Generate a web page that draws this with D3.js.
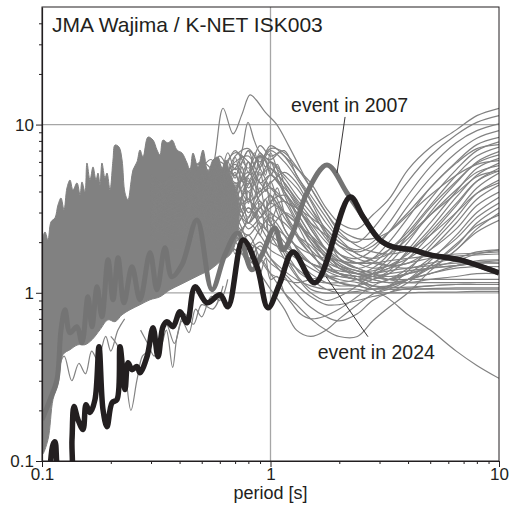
<!DOCTYPE html>
<html>
<head>
<meta charset="utf-8">
<script src="https://cdn.jsdelivr.net/npm/d3@7"></script>
<style>
  body { margin: 0; background: #fff; }
  text { font-family: "Liberation Sans", Arial, Helvetica, sans-serif; fill: #231f20; }
</style>
</head>
<body>
<div id="chart"></div>
<script>
// ---- data (period [s], response) ----
const titleText = "JMA Wajima / K-NET ISK003";
const xLabel = "period [s]";
const xMajor = [0.1, 1, 10];
const yMajor = [0.1, 1, 10];
const xMinor = [0.2, 0.3, 0.4, 0.5, 0.6, 0.7, 0.8, 0.9, 2, 3, 4, 5, 6, 7, 8, 9];
const yMinor = [0.2, 0.3, 0.4, 0.5, 0.6, 0.7, 0.8, 0.9, 2, 3, 4, 5, 6, 7, 8, 9, 20, 30, 40];

// event in 2024 (thick black)
const p2024 = [0.1084, 0.1117, 0.114, 0.1163, 0.1199, 0.1326, 0.1353, 0.138, 0.1437, 0.1512, 0.1558, 0.1622, 0.1706, 0.1776, 0.1849, 0.1925, 0.2025, 0.2129, 0.2195, 0.2308, 0.2379, 0.2476, 0.2604, 0.2684, 0.2881, 0.3061, 0.3219, 0.3385, 0.3524, 0.3744, 0.4018, 0.4311, 0.4673, 0.5273, 0.6012, 0.6516, 0.758, 0.873, 0.975, 1.10, 1.254, 1.566, 2.23, 2.54, 3.01, 3.43, 4.2, 4.99, 6.75, 10];
const v2024 = [0.089, 0.125, 0.13, 0.095, 0.078, 0.078, 0.134, 0.211, 0.176, 0.154, 0.216, 0.194, 0.232, 0.478, 0.202, 0.16, 0.222, 0.232, 0.478, 0.266, 0.384, 0.349, 0.364, 0.335, 0.417, 0.62, 0.417, 0.629, 0.673, 0.629, 0.771, 0.664, 1.085, 0.872, 0.973, 0.826, 2.063, 1.426, 0.815, 1.146, 1.75, 1.146, 3.71, 2.83, 2.06, 1.875, 1.80, 1.68, 1.57, 1.314];

// event in 2007 (thick grey)
const p2007 = [0.1, 0.1084, 0.1163, 0.1211, 0.1261, 0.1326, 0.1422, 0.1496, 0.1588, 0.1655, 0.1741, 0.183, 0.1945, 0.2046, 0.2152, 0.2284, 0.2476, 0.2684, 0.297, 0.3185, 0.3453, 0.37, 0.4097, 0.4766, 0.5547, 0.6316, 0.7192, 0.8287, 0.916, 1.044, 1.134, 1.252, 1.442, 1.767, 2.162, 2.54, 3.01, 3.43, 4.2, 4.99, 6.75, 10];
const v2007 = [0.176, 0.232, 0.305, 0.603, 0.793, 0.579, 0.629, 0.505, 0.947, 0.629, 1.085, 0.721, 1.57, 0.909, 1.613, 0.872, 1.426, 0.909, 1.727, 1.042, 1.85, 1.245, 1.466, 2.71, 1.042, 1.68, 2.27, 1.369, 1.68, 2.43, 1.80, 2.27, 3.92, 5.75, 3.92, 2.83, 2.06, 1.875, 1.80, 1.68, 1.57, 1.314];

// dense band of other records at short periods: upper and lower edge
const bandTopP = [0.1, 0.1031, 0.1062, 0.1095, 0.114, 0.1175, 0.1211, 0.1248, 0.1286, 0.1326, 0.1366, 0.1423, 0.1467, 0.1496, 0.1542, 0.1573, 0.1622, 0.1672, 0.1723, 0.1758, 0.1794, 0.183, 0.1887, 0.1925, 0.1984, 0.2045, 0.2087, 0.2173, 0.224, 0.2308, 0.2379, 0.2452, 0.2501, 0.2604, 0.2684, 0.2767, 0.291, 0.3061, 0.3186, 0.3284, 0.3385, 0.3559, 0.3707, 0.3898, 0.41, 0.4311, 0.4443, 0.458, 0.4816, 0.5064, 0.5326, 0.5601, 0.589, 0.6135, 0.6387, 0.665, 0.70, 0.73];
const bandTopV = [1.93, 2.3, 2.06, 2.64, 2.79, 3.33, 3.66, 3.11, 4.2, 4.68, 4.09, 4.5, 3.82, 4.56, 3.98, 5.91, 4.68, 5.6, 4.68, 5.15, 4.38, 5.91, 4.81, 5.15, 4.09, 6.16, 7.56, 7.35, 6.16, 3.92, 3.57, 4.56, 5.37, 5.99, 7.06, 6.41, 8.43, 8.09, 7.06, 6.59, 8.09, 7.77, 8.09, 7.06, 6.77, 5.91, 5.37, 6.77, 5.6, 7.06, 5.15, 6.16, 6.41, 5.37, 6.16, 5.0, 4.2, 3.0];
const bandLowP = [0.1, 0.1062, 0.1117, 0.1175, 0.1236, 0.1326, 0.1437, 0.1542, 0.1655, 0.1794, 0.1945, 0.2087, 0.224, 0.2427, 0.2684, 0.297, 0.3284, 0.363, 0.4018, 0.4443, 0.4912, 0.5432, 0.6012, 0.665, 0.70];
const bandLowV = [0.109, 0.134, 0.232, 0.284, 0.429, 0.459, 0.491, 0.491, 0.526, 0.603, 0.691, 0.673, 0.74, 0.793, 0.849, 0.909, 0.947, 1.042, 1.116, 1.195, 1.279, 1.369, 1.527, 1.681, 1.95];

// other records, sampled on a common period grid
const gridP = [0.3, 0.4, 0.5, 0.6, 0.7, 0.8, 0.9, 1.0, 1.15, 1.3, 1.5, 1.75, 2.0, 2.4, 2.8, 3.3, 4, 5, 6.5, 8, 10];
const others = [
  [4, 5, 4.5, 6, 5, 7, 6, 7.5, 6.5, 5.5, 4.5, 3.2, 2.6, 2.4, 2.9, 3.6, 5.4, 7.3, 9.3, 11.3, 12.5],
  [3.5, 4.5, 6, 5, 7, 5.5, 7.5, 6.5, 7, 5, 3.8, 2.8, 2.2, 2.0, 2.4, 3.2, 4.6, 6.5, 8.7, 10.3, 11.3],
  [5, 4, 5.5, 4.5, 6, 6.5, 5, 6, 5, 4.2, 3.2, 2.4, 2.0, 1.8, 2.0, 2.6, 3.8, 5.6, 7.8, 9.2, 10.1],
  [3, 5.5, 4, 6.5, 4.5, 5, 6.5, 5.5, 4.5, 3.5, 2.6, 2.0, 1.7, 1.6, 1.8, 2.3, 3.3, 4.8, 6.8, 8.3, 9.2],
  [4.5, 3.5, 5, 4, 5.5, 4, 5.5, 7, 6, 4.8, 3.5, 2.3, 1.7, 1.5, 1.6, 2.0, 2.8, 4.2, 6.0, 7.6, 8.4],
  [3, 4, 3.5, 5, 4, 6, 4.5, 5, 4, 3, 2.2, 1.6, 1.4, 1.3, 1.4, 1.7, 2.4, 3.6, 5.4, 7.0, 7.9],
  [5, 3, 4.5, 3.5, 4.5, 3.5, 4, 4.5, 5.2, 4.5, 3.2, 2.2, 1.6, 1.4, 1.5, 1.8, 2.3, 3.3, 5.0, 6.5, 7.35],
  [2.5, 4.5, 3, 4, 3, 4.5, 3.5, 3, 2.6, 2.2, 1.9, 1.5, 1.3, 1.2, 1.25, 1.5, 2.0, 3.0, 4.5, 6.0, 6.9],
  [3.5, 2.8, 4, 3, 5, 3, 3.8, 4.2, 3.5, 2.6, 1.8, 1.3, 1.15, 1.1, 1.2, 1.35, 1.8, 2.6, 4.0, 5.5, 6.3],
  [4, 3.2, 3.5, 5.5, 3.5, 4, 2.8, 3.5, 3.8, 3.2, 2.5, 1.8, 1.4, 1.3, 1.3, 1.4, 1.75, 2.4, 3.7, 5.0, 5.9],
  [2.8, 3.8, 3, 3.5, 2.8, 3.5, 3, 2.5, 3.0, 2.7, 2.0, 1.5, 1.3, 1.2, 1.2, 1.3, 1.6, 2.2, 3.3, 4.6, 5.5],
  [3.2, 2.5, 4.5, 3.2, 4, 2.8, 4.8, 5.5, 4.5, 3.6, 2.8, 2.1, 1.7, 1.5, 1.4, 1.45, 1.6, 2.0, 3.0, 4.2, 5.15],
  [2.6, 3.5, 2.8, 3, 2.5, 3.2, 2.5, 2.0, 1.8, 1.6, 1.4, 1.25, 1.15, 1.1, 1.05, 1.1, 1.35, 1.9, 2.8, 3.9, 4.68],
  [4.5, 3.8, 3.2, 4.5, 3.2, 2.6, 3.2, 3.8, 2.8, 2.2, 1.7, 1.4, 1.3, 1.25, 1.15, 1.2, 1.4, 1.8, 2.6, 3.6, 4.37],
  [3, 4.2, 3.6, 2.6, 3.6, 5, 6.5, 6, 4.8, 3.8, 3.0, 2.3, 1.9, 1.6, 1.5, 1.45, 1.5, 1.8, 2.4, 3.3, 3.97],
  [2.3, 2.8, 2.4, 3.2, 2.2, 2.6, 2.2, 1.8, 1.6, 1.4, 1.2, 1.05, 1.0, 1.0, 1.0, 1.05, 1.2, 1.55, 2.2, 3.0, 3.7],
  [3.8, 3, 4, 2.8, 3.2, 2.4, 2.8, 3.2, 3.5, 3.0, 2.2, 1.7, 1.45, 1.35, 1.25, 1.2, 1.3, 1.6, 2.1, 2.8, 3.42],
  [2.5, 2.2, 3, 2.5, 2.8, 2, 1.8, 1.5, 1.3, 1.1, 0.95, 0.85, 0.85, 0.9, 0.95, 1.0, 1.15, 1.45, 1.9, 2.6, 3.2],
  [3.2, 2.6, 2.2, 3.8, 2.6, 2.2, 2.6, 2.2, 1.9, 1.7, 1.5, 1.35, 1.25, 1.2, 1.1, 1.1, 1.2, 1.4, 1.8, 2.4, 2.98],
  [4.2, 5, 5.8, 4.2, 6.5, 7.2, 5.5, 4.2, 3.5, 3.2, 2.8, 2.4, 2.0, 1.7, 1.55, 1.45, 1.4, 1.5, 1.6, 1.75, 1.8],
  [2.4, 3.2, 2.6, 2.2, 2.0, 2.8, 3.5, 2.6, 2.0, 1.7, 1.5, 1.4, 1.35, 1.3, 1.2, 1.15, 1.2, 1.3, 1.45, 1.55, 1.57],
  [2.8, 2.3, 3.4, 2.4, 2.5, 1.9, 2.4, 2.8, 2.2, 1.6, 1.3, 1.15, 1.1, 1.1, 1.05, 1.1, 1.2, 1.3, 1.4, 1.43, 1.43],
  [3.6, 4.6, 3.8, 5.2, 6.8, 6, 4.5, 3.8, 3.0, 2.6, 2.2, 1.8, 1.55, 1.4, 1.3, 1.2, 1.15, 1.15, 1.15, 1.15, 1.15],
  [2.2, 2.6, 2.0, 2.6, 1.8, 2.2, 1.6, 1.3, 1.2, 1.15, 1.2, 1.25, 1.25, 1.2, 1.1, 1.05, 1.05, 1.06, 1.07, 1.07, 1.07],
  [2.6, 2.0, 2.8, 2.0, 2.2, 1.6, 1.9, 1.6, 1.35, 1.2, 1.1, 1.05, 1.05, 1.05, 1.0, 1.0, 1.0, 1.01, 1.01, 1.02, 1.02],
  [3, 3.5, 2.5, 3, 2.5, 3.2, 2.8, 3.4, 3.0, 2.6, 2.1, 1.7, 1.45, 1.2, 1.05, 0.92, 0.74, 0.6, 0.45, 0.37, 0.31],
  [2.2, 1.8, 2.4, 1.8, 2.0, 1.5, 1.6, 1.3, 1.0, 0.85, 0.7, 0.6, 0.55, 0.55, 0.68, 0.82, 1.0, 1.35, 1.8, 2.3, 2.7],
  [2.5, 2, 2.8, 2.2, 1.8, 1.6, 1.3, 1.05, 0.8, 0.6, 0.55, 0.6, 0.7, 0.85, 0.98, 1.08, 1.2, 1.45, 1.95, 2.5, 2.9],
  [3, 2.4, 2, 2.6, 2.2, 1.8, 2.0, 1.6, 1.25, 1.0, 0.82, 0.72, 0.68, 0.75, 0.9, 1.0, 1.06, 1.1, 1.12, 1.12, 1.12],
  [3.4, 4, 3.2, 4.2, 3.4, 4.4, 5.8, 7.2, 6.8, 5.6, 4.2, 3.0, 2.3, 1.9, 1.75, 1.7, 1.8, 2.2, 3.0, 3.9, 4.5],
  [2.6, 3, 3.6, 2.8, 4.2, 5.2, 4.0, 5.0, 4.2, 3.4, 2.4, 1.8, 1.5, 1.35, 1.35, 1.45, 1.7, 2.3, 3.4, 4.6, 5.3],
  [3.6, 2.6, 3, 2.4, 3.0, 3.6, 2.6, 2.2, 1.6, 1.25, 1.0, 0.9, 0.95, 1.1, 1.3, 1.6, 2.2, 3.2, 4.6, 5.9, 6.6],
  [4, 4.8, 3.6, 4.6, 5.8, 4.6, 6.8, 5.2, 4.0, 3.2, 2.6, 2.2, 1.9, 1.75, 1.9, 2.3, 3.0, 4.2, 5.9, 7.2, 7.6],
  [2.8, 3.4, 4.2, 3.2, 3.6, 2.6, 3.2, 2.6, 2.2, 1.9, 1.7, 1.6, 1.55, 1.5, 1.6, 1.8, 2.2, 2.9, 3.9, 4.9, 5.3]
];

// records with short wiggles around 0.5-1.3 s, finer grid
const wiggleP = [0.5, 0.55, 0.6, 0.65, 0.7, 0.75, 0.8, 0.85, 0.9, 0.95, 1.0, 1.07, 1.15, 1.25, 1.35, 1.5, 1.7, 2.0, 2.4, 2.8, 3.3, 4, 5, 6.5, 8, 10];
const wiggles = [
  [4.5, 5.5, 4.2, 6.0, 4.8, 6.5, 5.2, 6.8, 5.6, 6.2, 5.0, 5.8, 4.4, 3.6, 3.0, 2.4, 1.9, 1.6, 1.4, 1.3, 1.25, 1.3, 1.4, 1.55, 1.7, 1.8],
  [3.5, 4.6, 3.2, 5.2, 3.8, 5.6, 4.2, 4.8, 6.4, 5.0, 6.8, 5.4, 4.0, 3.2, 2.6, 2.1, 1.7, 1.45, 1.3, 1.2, 1.15, 1.15, 1.2, 1.25, 1.3, 1.3],
  [5.2, 3.8, 5.8, 4.2, 6.4, 4.6, 6.0, 4.4, 5.2, 4.0, 4.6, 3.6, 3.0, 2.5, 2.1, 1.8, 1.55, 1.4, 1.3, 1.25, 1.2, 1.2, 1.2, 1.2, 1.2, 1.2],
  [3.0, 3.8, 2.8, 4.2, 3.2, 4.8, 3.4, 5.2, 3.8, 4.6, 3.4, 4.2, 3.0, 2.4, 2.0, 1.7, 1.45, 1.3, 1.25, 1.3, 1.35, 1.4, 1.45, 1.5, 1.52, 1.55],
  [4.0, 3.0, 4.6, 3.4, 3.8, 5.6, 3.6, 4.4, 3.2, 3.6, 2.6, 3.2, 2.4, 2.0, 1.75, 1.5, 1.3, 1.2, 1.15, 1.1, 1.08, 1.08, 1.1, 1.12, 1.12, 1.12],
  [2.6, 3.4, 2.4, 3.0, 2.2, 3.6, 2.6, 3.0, 2.2, 2.8, 2.0, 2.4, 1.8, 1.5, 1.3, 1.2, 1.15, 1.15, 1.2, 1.3, 1.4, 1.5, 1.6, 1.65, 1.68, 1.7],
  [5.5, 6.2, 5.0, 6.8, 5.4, 6.0, 7.0, 5.8, 6.6, 5.6, 6.0, 4.8, 3.8, 3.0, 2.5, 2.0, 1.7, 1.55, 1.5, 1.5, 1.55, 1.6, 1.65, 1.7, 1.72, 1.75],
  [3.2, 2.4, 3.6, 2.6, 4.4, 3.0, 4.0, 2.8, 3.4, 2.4, 3.0, 2.2, 1.7, 1.4, 1.2, 1.05, 1.0, 1.0, 1.02, 1.05, 1.05, 1.05, 1.05, 1.05, 1.05, 1.05],
  [2.2, 2.8, 2.0, 2.4, 1.7, 2.2, 1.5, 1.9, 1.3, 1.6, 1.2, 1.25, 1.0, 0.85, 0.75, 0.7, 0.72, 0.8, 0.95, 1.1, 1.2, 1.3, 1.4, 1.45, 1.5, 1.5],
  [3.8, 4.8, 3.6, 4.4, 5.2, 4.0, 4.8, 3.6, 4.2, 3.2, 3.8, 3.0, 2.4, 2.0, 1.7, 1.5, 1.4, 1.3, 1.25, 1.25, 1.3, 1.35, 1.4, 1.45, 1.5, 1.5]
];

// two records that rise above 10 near 0.6-0.8 s
const peakAP = [0.45, 0.52, 0.56, 0.62, 0.686, 0.75, 0.813, 0.866, 0.95, 1.06, 1.2, 1.35, 1.5, 1.75, 2.0, 2.4, 2.8, 3.3, 4, 5, 6.5, 8, 10];
const peakAV = [5.0, 4.6, 5.6, 12.5, 8.8, 11.5, 15.0, 14.0, 11.8, 10.1, 7.5, 5.5, 4.2, 3.0, 2.4, 2.1, 2.1, 2.3, 2.9, 3.8, 5.0, 5.8, 6.1];
const peakBP = [0.5, 0.6, 0.7, 0.75, 0.797, 0.85, 0.9, 1.0, 1.1, 1.2, 1.35, 1.5, 1.75, 2.0, 2.4, 2.8, 3.3, 4, 5, 6.5, 8, 10];
const peakBV = [4.5, 5.0, 5.5, 7.0, 10.3, 8.0, 6.8, 6.2, 6.8, 6.0, 4.6, 3.6, 2.6, 2.1, 1.7, 1.6, 1.7, 2.1, 2.9, 4.1, 5.2, 5.7];

// a few records below the band at short periods
const lowAP = [0.2, 0.215, 0.23, 0.245, 0.26, 0.275, 0.29, 0.31, 0.33, 0.35, 0.373, 0.39, 0.42, 0.46, 0.5, 0.56, 0.62];
const lowAV = [0.55, 0.48, 0.35, 0.2, 0.3, 0.42, 0.45, 0.55, 0.48, 0.6, 0.36, 0.55, 0.75, 0.65, 0.85, 0.8, 1.1];
const lowBP = [0.115, 0.125, 0.135, 0.145, 0.155, 0.165, 0.175, 0.19, 0.2, 0.215, 0.23];
const lowBV = [0.3, 0.42, 0.3, 0.38, 0.33, 0.45, 0.4, 0.55, 0.45, 0.6, 0.7];
const lowCP = [0.27, 0.29, 0.31, 0.33, 0.35, 0.38, 0.41, 0.44, 0.47, 0.5, 0.55, 0.6, 0.65];
const lowCV = [0.6, 0.5, 0.42, 0.55, 0.65, 0.5, 0.68, 0.58, 0.8, 0.72, 0.95, 0.9, 1.2];

// ---- drawing ----
const W = 516, H = 511;
const plot = {left: 42, right: 499, top: 7, bottom: 461};
const ink = "#231f20";

const svg = d3.select("#chart").append("svg")
    .attr("width", W)
    .attr("height", H);

const x = d3.scaleLog().domain([0.1, 10]).range([plot.left, plot.right]);
const y = d3.scaleLog().domain([0.1, 50]).range([plot.bottom, plot.top]);

svg.append("clipPath").attr("id", "clip")
  .append("rect")
    .attr("x", plot.left).attr("y", plot.top)
    .attr("width", plot.right - plot.left)
    .attr("height", plot.bottom - plot.top);

// grid at the decades
const grid = svg.append("g").attr("stroke", "#a6a6a6").attr("stroke-width", 1.3);
grid.selectAll("line.h").data([1, 10]).enter().append("line")
    .attr("x1", plot.left).attr("x2", plot.right)
    .attr("y1", d => y(d)).attr("y2", d => y(d));
grid.selectAll("line.v").data([1]).enter().append("line")
    .attr("y1", plot.top).attr("y2", plot.bottom)
    .attr("x1", d => x(d)).attr("x2", d => x(d));

const pairs = (ps, vs) => ps.map((p, i) => [p, vs[i]]);
const line = d3.line()
    .x(d => x(d[0]))
    .y(d => y(d[1]))
    .curve(d3.curveCatmullRom.alpha(0.5));

const g = svg.append("g").attr("clip-path", "url(#clip)");

// short period band
const band = pairs(bandTopP, bandTopV).concat(pairs(bandLowP, bandLowV).reverse());
g.append("path")
    .attr("d", d3.line().x(d => x(d[0])).y(d => y(d[1])).curve(d3.curveCatmullRomClosed.alpha(0.5))(band))
    .attr("fill", "#818181")
    .attr("stroke", "#818181")
    .attr("stroke-width", 1);

// thin records
const thin = others.map(vs => pairs(gridP, vs))
  .concat(wiggles.map(vs => pairs(wiggleP, vs)))
  .concat([pairs(peakAP, peakAV), pairs(peakBP, peakBV), pairs(lowAP, lowAV), pairs(lowBP, lowBV), pairs(lowCP, lowCV)]);

g.selectAll("path.thin")
  .data(thin)
  .enter().append("path")
    .attr("class", "thin")
    .attr("d", line)
    .attr("fill", "none")
    .attr("stroke", "#828282")
    .attr("stroke-width", 1.2);

// the two events
g.append("path")
    .attr("d", line(pairs(p2007, v2007)))
    .attr("fill", "none")
    .attr("stroke", "#747474")
    .attr("stroke-width", 5)
    .attr("stroke-linejoin", "round");

g.append("path")
    .attr("d", line(pairs(p2024, v2024)))
    .attr("fill", "none")
    .attr("stroke", ink)
    .attr("stroke-width", 5.5)
    .attr("stroke-linejoin", "round");

// annotations
const notes = [
  {text: "event in 2007", at: [1.23, 11.9], from: [2.12, 11.1], to: [1.955, 5.16]},
  {text: "event in 2024", at: [1.61, 0.406], from: [1.75, 1.245], to: [2.67, 0.548]}
];
notes.forEach(n => {
  svg.append("line")
      .attr("x1", x(n.from[0])).attr("y1", y(n.from[1]))
      .attr("x2", x(n.to[0])).attr("y2", y(n.to[1]))
      .attr("stroke", ink).attr("stroke-width", 0.9);
  svg.append("text")
      .attr("x", x(n.at[0])).attr("y", y(n.at[1]))
      .attr("font-size", 19.5)
      .text(n.text);
});

svg.append("text")
    .attr("x", 52).attr("y", 32)
    .attr("font-size", 21)
    .text(titleText);

// axes
const fmt = d3.format("~g");
const styleAxis = sel => {
  sel.selectAll("line").attr("stroke", ink);
  sel.select(".domain").attr("stroke", ink).attr("stroke-width", 1.2);
  sel.selectAll("text").attr("font-size", 17).attr("fill", ink)
     .style("font-family", '"Liberation Sans", Arial, sans-serif');
};

svg.append("g")
    .attr("transform", `translate(${plot.left},0)`)
    .call(d3.axisLeft(y).tickValues(yMinor).tickFormat("").tickSize(3).tickSizeOuter(0))
    .call(a => a.select(".domain").remove())
    .call(styleAxis);
svg.append("g")
    .attr("transform", `translate(${plot.left},0)`)
    .call(d3.axisLeft(y).tickValues(yMajor).tickFormat(fmt).tickSize(6).tickSizeOuter(0).tickPadding(2))
    .call(styleAxis);

svg.append("g")
    .attr("transform", `translate(0,${plot.bottom})`)
    .call(d3.axisBottom(x).tickValues(xMinor).tickFormat("").tickSize(3).tickSizeOuter(0))
    .call(a => a.select(".domain").remove())
    .call(styleAxis);
svg.append("g")
    .attr("transform", `translate(0,${plot.bottom})`)
    .call(d3.axisBottom(x).tickValues(xMajor).tickFormat(fmt).tickSize(6).tickSizeOuter(0).tickPadding(1))
    .call(styleAxis);

// frame
svg.append("rect")
    .attr("x", plot.left).attr("y", plot.top)
    .attr("width", plot.right - plot.left)
    .attr("height", plot.bottom - plot.top)
    .attr("fill", "none")
    .attr("stroke", ink)
    .attr("stroke-width", 1);

svg.append("text")
    .attr("x", (plot.left + plot.right) / 2)
    .attr("y", 499)
    .attr("text-anchor", "middle")
    .attr("font-size", 18)
    .text(xLabel);
</script>
</body>
</html>
